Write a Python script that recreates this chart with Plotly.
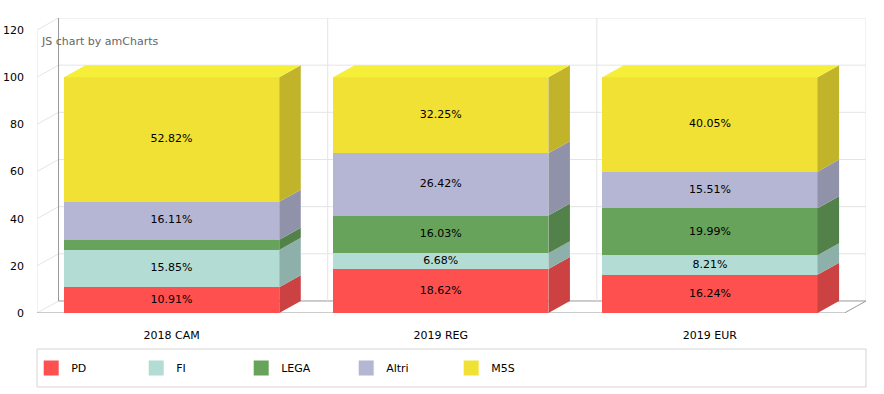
import plotly.graph_objects as go

# ---------------- data ----------------
categories = ["2018 CAM", "2019 REG", "2019 EUR"]
series_names = ["PD", "FI", "LEGA", "Altri", "M5S"]
pd_vals = [10.91, 18.62, 16.24]
fi_vals = [15.85, 6.68, 8.21]
lega_vals = [4.31, 16.03, 19.99]
altri_vals = [16.11, 26.42, 15.51]
m5s_vals = [52.82, 32.25, 40.05]
y_ticks = [0, 20, 40, 60, 80, 100, 120]

series_values = [pd_vals, fi_vals, lega_vals, altri_vals, m5s_vals]

# ---------------- style ----------------
front_colors = ["#FF5050", "#B2DCD4", "#67A35B", "#B4B6D4", "#F2E135"]
side_colors = ["#CC4141", "#8EB0AA", "#528249", "#9092AA", "#C2B42A"]
top_color = "#F6EF3A"
FONT = "DejaVu Sans, Verdana, sans-serif"
BAR_W = 0.8
DX = 0.08      # 3D depth offset (x units)
DY = 5.1       # 3D depth offset (y units)
LABEL_MIN = 5  # segments smaller than this carry no label
Y_MAX = y_ticks[-1]
X_MIN, X_MAX = -0.5, len(categories) - 0.5

xs = list(range(len(categories)))
fig = go.Figure()

# front faces (real stacked bars)
for name, vals, col in zip(series_names, series_values, front_colors):
    fig.add_trace(go.Bar(
        x=xs, y=vals, width=BAR_W, name=name, legendgroup=name,
        marker=dict(color=col, line=dict(width=0)), showlegend=False,
        hovertemplate="%{customdata}<br>" + name + ": %{y:.2f}%<extra></extra>",
        customdata=categories,
    ))

# side faces computed from the stacked values
bases = [0.0] * len(categories)
label_x, label_y, label_t = [], [], []
for si, (name, vals, scol) in enumerate(zip(series_names, series_values, side_colors)):
    px, py = [], []
    for i, v in enumerate(vals):
        b = bases[i]
        xr = i + BAR_W / 2
        px += [xr, xr + DX, xr + DX, xr, xr, None]
        py += [b, b + DY, b + v + DY, b + v, b, None]
        label_x.append(i)
        label_y.append(b + v / 2)
        label_t.append(f"{v:.2f}%" if v >= LABEL_MIN else "")
    fig.add_trace(go.Scatter(
        x=px, y=py, mode="lines", fill="toself", fillcolor=scol,
        line=dict(width=0, color=scol), hoverinfo="skip", showlegend=False,
        legendgroup=name,
    ))
    bases = [bases[i] + vals[i] for i in range(len(vals))]

# top faces of each stack
tx, ty = [], []
for i, top in enumerate(bases):
    xl, xr = i - BAR_W / 2, i + BAR_W / 2
    tx += [xl, xl + DX, xr + DX, xr, xl, None]
    ty += [top, top + DY, top + DY, top, top, None]
fig.add_trace(go.Scatter(
    x=tx, y=ty, mode="lines", fill="toself", fillcolor=top_color,
    line=dict(width=0, color=top_color), hoverinfo="skip", showlegend=False,
    legendgroup=series_names[-1],
))

# value labels
fig.add_trace(go.Scatter(
    x=label_x, y=label_y, text=label_t, mode="text",
    textfont=dict(family=FONT, size=11, color="#000000"),
    hoverinfo="skip", showlegend=False,
))

# legend entries
for name, col in zip(series_names, front_colors):
    fig.add_trace(go.Scatter(
        x=[None], y=[None], mode="markers", name=name, legendgroup=name,
        marker=dict(symbol="square", size=15, color=col, line=dict(width=0)),
    ))

# ---------------- 3D frame (grid on walls) ----------------
shapes = []
GRID = "#e4e4e4"
AXIS = "#999999"


def seg(x0, y0, x1, y1, color, width=1):
    shapes.append(dict(type="line", xref="x", yref="y", x0=x0, y0=y0, x1=x1, y1=y1,
                       line=dict(color=color, width=width), layer="below"))


for v in y_ticks:
    seg(X_MIN, v, X_MIN + DX, v + DY, GRID)
    seg(X_MIN + DX, v + DY, X_MAX + DX, v + DY, AXIS if v == 0 else GRID)
for k in range(len(categories) + 1):
    xb = X_MIN + k + DX
    seg(xb, DY, xb, Y_MAX + DY, AXIS if k == 0 else GRID)
seg(X_MIN, 0, X_MIN, Y_MAX, GRID)
seg(X_MIN, 0, X_MAX, 0, AXIS)
seg(X_MAX, 0, X_MAX + DX, DY, AXIS)

# legend frame
PLOT_H = 295
shapes.append(dict(type="rect", xref="paper", yref="paper", x0=0, x1=1,
                   y0=-74 / PLOT_H, y1=-36 / PLOT_H,
                   line=dict(color="#d4d4d4", width=1), fillcolor="rgba(0,0,0,0)",
                   layer="below"))

fig.update_layout(
    width=884, height=394,
    margin=dict(l=37, r=18, t=18, b=81, autoexpand=False),
    paper_bgcolor="#ffffff", plot_bgcolor="#ffffff",
    barmode="stack", bargap=0.2,
    font=dict(family=FONT, size=11, color="#000000"),
    shapes=shapes,
    showlegend=True,
    legend=dict(orientation="h", x=-0.007, xanchor="left", y=-55 / PLOT_H, yanchor="middle",
                entrywidth=60, entrywidthmode="pixels", itemsizing="trace",
                font=dict(family=FONT, size=11, color="#000000"),
                bgcolor="rgba(0,0,0,0)", borderwidth=0),
    annotations=[dict(text="JS chart by amCharts", xref="paper", yref="paper",
                      x=2 / 829, y=(313 - 41) / PLOT_H, xanchor="left", yanchor="middle",
                      showarrow=False, font=dict(family=FONT, size=11, color="#666666"))],
)
fig.update_xaxes(range=[X_MIN, X_MAX + DX], tickvals=xs, ticktext=categories,
                 showgrid=False, zeroline=False, showline=False, ticks="",
                 ticklabelstandoff=14, fixedrange=True, automargin=False)
fig.update_yaxes(range=[0, Y_MAX + DY], tickvals=y_ticks, showgrid=False,
                 zeroline=False, showline=False, ticks="", ticklabelstandoff=12,
                 fixedrange=True, automargin=False)

fig.write_html("out.html", post_script="document.body.style.margin='0';",
               config={"displayModeBar": False})
